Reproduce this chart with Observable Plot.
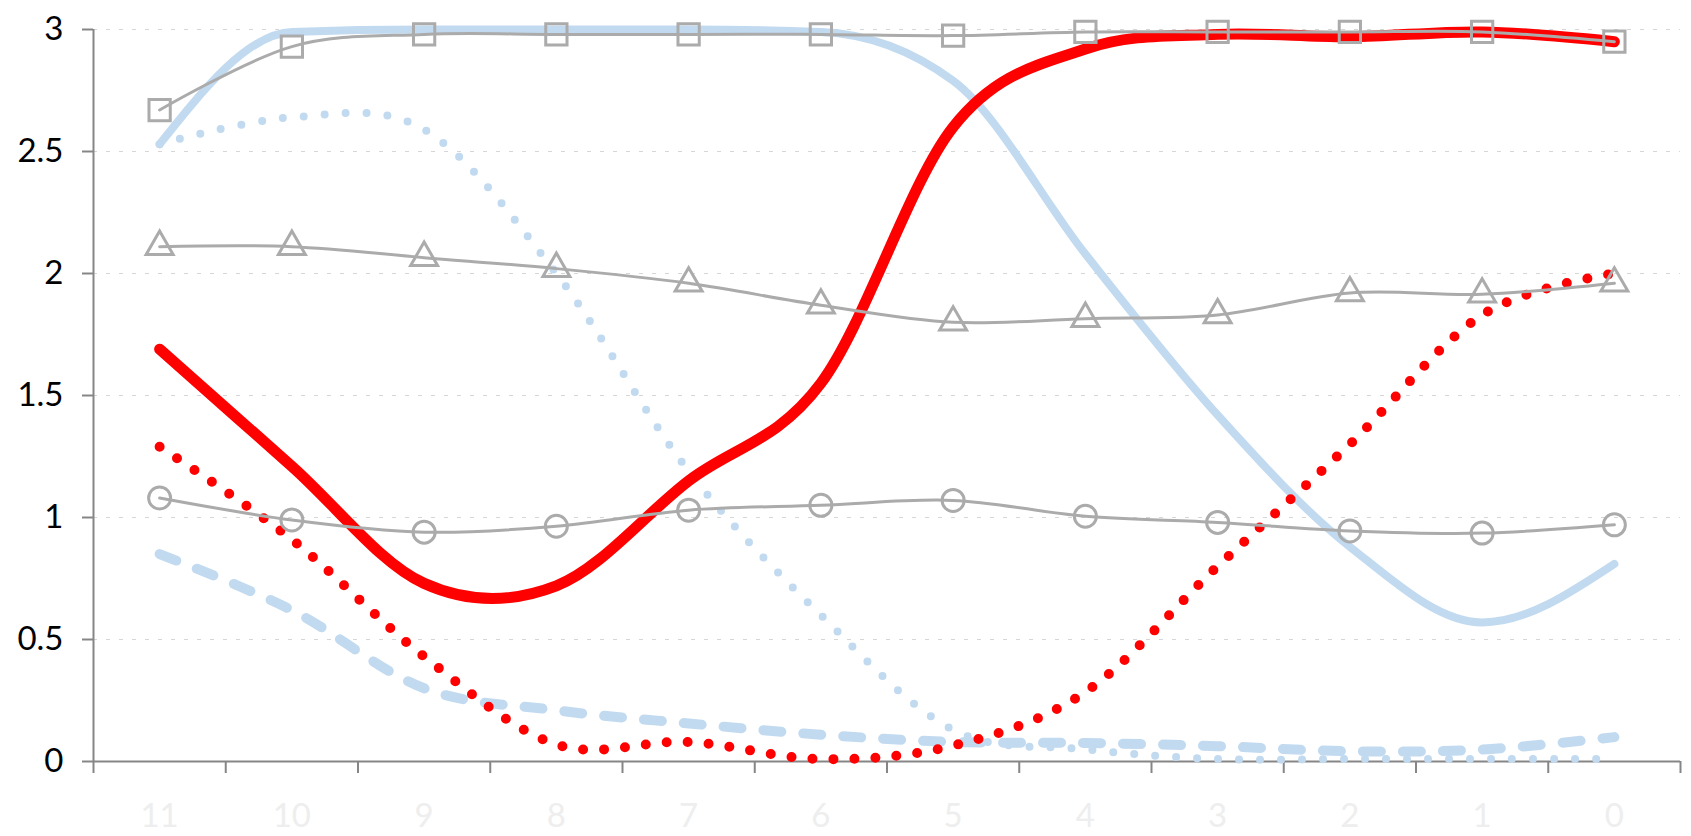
<!DOCTYPE html>
<html>
<head>
<meta charset="utf-8">
<script src="https://cdn.jsdelivr.net/npm/d3@7"></script>
<script src="https://cdn.jsdelivr.net/npm/@observablehq/plot@0.6"></script>
<style>
  html, body { margin: 0; padding: 0; background: #fff; }
  #chart { width: 1691px; height: 836px; }
  #chart svg text { font-family: Lato, 'Open Sans', sans-serif !important; font-size: 33px !important; }
</style>
</head>
<body>
<div id="chart"></div>
<script>
// Categories (x axis, left to right)
const categories = [11, 10, 9, 8, 7, 6, 5, 4, 3, 2, 1, 0];
// Y tick labels
const yTicks = [0, 0.5, 1, 1.5, 2, 2.5, 3];

// Series values, one per category
const redSolid     = [1.69, 1.21, 0.73, 0.72, 1.15, 1.55, 2.60, 2.92, 2.98, 2.97, 2.99, 2.95];
const redDotted    = [1.29, 0.91, 0.43, 0.07, 0.08, 0.01, 0.065, 0.285, 0.80, 1.30, 1.83, 2.00];
const blueSolid    = [2.53, 2.99, 3.00, 3.00, 3.00, 2.99, 2.79, 2.08, 1.42, 0.88, 0.57, 0.81];
const blueDotted   = [2.53, 2.64, 2.59, 2.00, 1.19, 0.60, 0.13, 0.05, 0.01, 0.01, 0.01, 0.01];
const blueDashed   = [0.85, 0.62, 0.30, 0.21, 0.156, 0.11, 0.08, 0.076, 0.063, 0.042, 0.049, 0.10];
const graySquare   = [2.67, 2.93, 2.98, 2.98, 2.98, 2.98, 2.975, 2.99, 2.99, 2.99, 2.99, 2.95];
const grayTriangle = [2.11, 2.11, 2.065, 2.02, 1.96, 1.87, 1.80, 1.815, 1.83, 1.92, 1.915, 1.96];
const grayCircle   = [1.08, 0.99, 0.94, 0.964, 1.03, 1.05, 1.07, 1.005, 0.98, 0.945, 0.936, 0.97];

const toRows = (vals) => categories.map((c, i) => ({x: c, y: vals[i]}));
const bounds = d3.range(categories.length + 1).map(i => 11.5 - i);

const gray = "#ababab";
const blue = "#c2daf0";
const font = "Lato, 'Open Sans', sans-serif";

const chart = Plot.plot({
  width: 1691,
  height: 836,
  marginLeft: 93,
  marginRight: 11,
  marginTop: 29,
  marginBottom: 75,
  style: {fontFamily: font, background: "#fff"},
  x: {type: "linear", domain: [11.5, -0.5], axis: null},
  y: {domain: [0, 3], axis: null},
  marks: [
    Plot.gridY(yTicks.filter(d => d > 0), {stroke: "#d6d6d6", strokeOpacity: 1, strokeDasharray: "4 9", strokeWidth: 1}),
    // axes
    Plot.axisY({ticks: yTicks, label: null, tickSize: 11, tickPadding: 19, stroke: "#868686", strokeWidth: 2, fill: "#000", tickFormat: d => String(d)}),
    Plot.axisX({ticks: bounds, label: null, tickSize: 12, stroke: "#868686", strokeWidth: 2, tickFormat: () => ""}),
    Plot.axisX({ticks: categories, label: null, tickSize: 0, tickPadding: 42, fill: "#eeeeee", tickFormat: d => String(d)}),
    Plot.ruleX([11.5], {y1: 0, y2: 3, stroke: "#868686", strokeWidth: 2}),
    Plot.ruleY([0], {stroke: "#868686", strokeWidth: 2}),
    // blue series
    Plot.line(toRows(blueSolid), {x: "x", y: "y", stroke: blue, strokeWidth: 8, curve: "monotone-x"}),
    Plot.line(toRows(blueDotted), {x: "x", y: "y", stroke: blue, strokeWidth: 8, strokeDasharray: "0 21", strokeLinecap: "round", curve: "cardinal", tension: 0}),
    Plot.line(toRows(blueDashed), {x: "x", y: "y", stroke: blue, strokeWidth: 10, strokeDasharray: "18 22", strokeLinecap: "round", curve: "cardinal", tension: 0}),
    // red series
    Plot.line(toRows(redDotted), {x: "x", y: "y", stroke: "#ff0000", strokeWidth: 10, strokeDasharray: "0 21", strokeLinecap: "round", curve: "cardinal", tension: 0}),
    Plot.line(toRows(redSolid), {x: "x", y: "y", stroke: "#ff0000", strokeWidth: 11, strokeLinecap: "round", curve: "cardinal", tension: 0}),
    // gray series with markers
    Plot.line(toRows(graySquare), {x: "x", y: "y", stroke: gray, strokeWidth: 3, curve: "cardinal", tension: 0}),
    Plot.line(toRows(grayTriangle), {x: "x", y: "y", stroke: gray, strokeWidth: 3, curve: "cardinal", tension: 0}),
    Plot.line(toRows(grayCircle), {x: "x", y: "y", stroke: gray, strokeWidth: 3, curve: "cardinal", tension: 0}),
    Plot.dot(toRows(graySquare), {x: "x", y: "y", symbol: "square", r: 12, stroke: gray, strokeWidth: 3, fill: "none"}),
    Plot.dot(toRows(grayTriangle), {x: "x", y: "y", symbol: "triangle", r: 10, stroke: gray, strokeWidth: 3, fill: "none"}),
    Plot.dot(toRows(grayCircle), {x: "x", y: "y", symbol: "circle", r: 11, stroke: gray, strokeWidth: 3, fill: "none"})
  ]
});
document.getElementById("chart").appendChild(chart);
</script>
</body>
</html>
